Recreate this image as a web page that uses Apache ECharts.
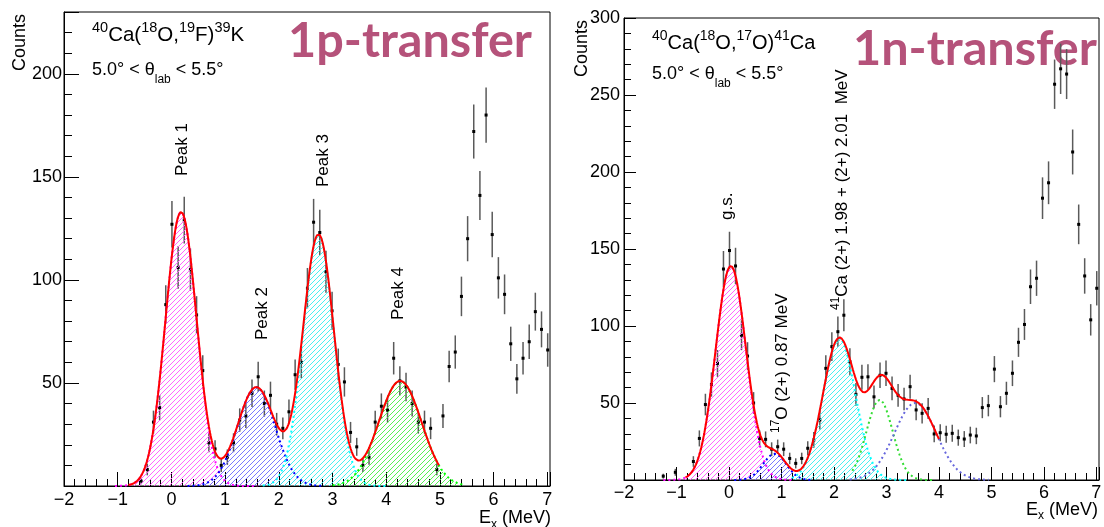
<!DOCTYPE html>
<html>
<head>
<meta charset="utf-8">
<script src="https://cdn.jsdelivr.net/npm/echarts@6.0.0/dist/echarts.min.js"></script>
<style>
html,body{margin:0;padding:0;background:#fff;}
#c{width:1104px;height:527px;}
</style>
</head>
<body>
<div id="c"></div>
<script>
// ------------------ DATA ------------------
// 40Ca(18O,19F)39K  (1p-transfer)
const leftE = [-0.564,-0.449,-0.334,-0.219,-0.105,0.010,0.125,0.239,0.354,0.469,0.584,0.698,0.813,0.928,1.042,1.157,1.272,1.386,1.501,1.616,1.731,1.845,1.960,2.075,2.189,2.304,2.419,2.533,2.648,2.763,2.878,2.992,3.107,3.222,3.336,3.451,3.566,3.680,3.795,3.910,4.025,4.139,4.254,4.369,4.483,4.598,4.713,4.827,4.942,5.057,5.172,5.286,5.401,5.516,5.630,5.745,5.860,5.974,6.089,6.204,6.319,6.433,6.548,6.663,6.777,6.892,7.007];
const leftCounts = [2.4,8,31,38,88,127,106,129,105,83,56,21,18,10,14,21,32,34,45,53,40,44,30,28,36,54,60,96,128,123,104,85,59,50.5,26,19,10,14,31,38.7,36.8,62,51,48,40,31,31,28,8,34,58,65,92,120,172,141,180,122,101,93,69,52,62,70,84.6,76,66];

// 40Ca(18O,17O)41Ca  (1n-transfer)
const rightE = [-1.252,-1.022,-0.678,-0.564,-0.449,-0.334,-0.219,-0.105,0.010,0.125,0.239,0.354,0.469,0.584,0.698,0.813,0.928,1.042,1.157,1.272,1.386,1.501,1.616,1.731,1.845,1.960,2.075,2.189,2.304,2.419,2.533,2.648,2.763,2.878,2.992,3.107,3.222,3.336,3.451,3.566,3.680,3.795,3.910,4.025,4.139,4.254,4.369,4.483,4.598,4.713,4.827,4.942,5.057,5.172,5.286,5.401,5.516,5.630,5.745,5.860,5.974,6.089,6.204,6.319,6.433,6.548,6.663,6.777,6.892,7.007];
const rightCounts = [2.5,5,12,27,49,62,75.7,137,149,139,94,80.5,50,27,26.4,20,21.6,20,14,10.8,14,20.6,26,39,72.5,86.6,96.3,107,76.8,55.6,66.7,67,54,68,69.3,59.5,55,52.6,60.6,45.5,43.3,46.5,29.9,30.7,29.7,30.3,27.5,26.6,29.2,28.6,47,48.3,72,47.6,56.3,69.3,89.4,101,125.5,131,183,193,257,267,263.6,213,166,132.5,104,124.5];

// Gaussian fit components (amplitude, mean, sigma, drawn range)
const leftAmp   = [133, 48, 122, 51];
const leftMean  = [0.18, 1.58, 2.74, 4.26];
const leftSigma = [0.29, 0.35, 0.29, 0.40];
const leftLo    = [-1.05, 0.30, 1.70, 3.00];
const leftHi    = [1.60, 2.80, 4.05, 5.45];
const leftFitRange = [-0.80, 4.98];

const rightAmp   = [139, 17, 92, 52, 50];
const rightMean  = [0.035, 0.87, 2.10, 2.87, 3.55];
const rightSigma = [0.29, 0.22, 0.31, 0.25, 0.40];
const rightLo    = [-1.25, 0.10, 1.20, 2.35, 2.30];
const rightHi    = [1.20, 1.60, 3.40, 3.90, 4.95];
const rightFitRange = [-0.83, 4.00];

// axis ticks
const xTickValues = [-2,-1,0,1,2,3,4,5,6,7];
const leftYTicks  = [50,100,150,200];
const rightYTicks = [50,100,150,200,250,300];

// ------------------ STYLE ------------------
const FONT = '"Liberation Sans", Arial, Helvetica, sans-serif';
const leftColors  = ['#ff00ff', '#0000ff', '#00ffff', '#00ff00'];
const leftHatch   = ['#ff55ff', '#6a6aff', '#33eeee', '#44ee44'];
const leftFilled  = [true, true, true, true];
const rightColors = ['#ff00ff', '#0000ff', '#00ffff', '#33dd33', '#6666dd'];
const rightHatch  = ['#ff55ff', '#6a6aff', '#33eeee', '#44ee44', '#6666dd'];
const rightFilled = [true, true, true, false, false];
const TITLE_COLOR = '#b5527a';

const chart = echarts.init(document.getElementById('c'), null, {renderer: 'canvas'});

function hatch(color) {
  const s = 5;
  const c = document.createElement('canvas');
  c.width = s; c.height = s;
  const g = c.getContext('2d');
  g.strokeStyle = color; g.lineWidth = 0.9;
  g.beginPath();
  g.moveTo(-1, s + 1); g.lineTo(s + 1, -1);
  g.moveTo(-1, 1); g.lineTo(1, -1);
  g.moveTo(s - 1, s + 1); g.lineTo(s + 1, s - 1);
  g.stroke();
  return {image: c, repeat: 'repeat'};
}

function gauss(a, m, s, x) { return a * Math.exp(-0.5 * ((x - m) / s) * ((x - m) / s)); }
function sample(lo, hi, f) {
  const n = Math.ceil((hi - lo) / 0.01), pts = [];
  for (let i = 0; i <= n; i++) { const x = lo + (hi - lo) * i / n; pts.push([x, f(x)]); }
  return pts;
}

const grids = [
  {left: 64, top: 12, width: 486, height: 474},
  {left: 624, top: 18, width: 475, height: 462}
];

function xMain(g, len) {
  return {gridIndex: g, type: 'value', min: -2, max: 7.05, interval: 1, position: 'bottom',
    axisLine: {show: true, onZero: false, lineStyle: {color: '#000', width: 1}},
    axisTick: {show: true, inside: true, length: len, lineStyle: {color: '#000', width: 1}},
    axisLabel: {show: true, margin: g === 0 ? 5 : 4, fontSize: 18, fontFamily: FONT, color: '#000',
      formatter: v => xTickValues.indexOf(Math.round(v * 1000) / 1000) < 0 ? '' : (v < 0 ? '\u2212' + (-v) : String(v))},
    splitLine: {show: false}};
}
function xMinor(g, len) {
  return {gridIndex: g, type: 'value', min: -2, max: 7.05, interval: 0.2, position: 'bottom',
    axisLine: {show: false, onZero: false},
    axisTick: {show: true, inside: true, length: len, lineStyle: {color: '#000', width: 1}},
    axisLabel: {show: false}, splitLine: {show: false}};
}
function yMain(g, max, len, ticks, margin) {
  return {gridIndex: g, type: 'value', min: 0, max: max, interval: 50, position: 'left',
    axisLine: {show: true, onZero: false, lineStyle: {color: '#000', width: 1}},
    axisTick: {show: true, inside: true, length: len, lineStyle: {color: '#000', width: 1}},
    axisLabel: {show: true, margin: margin, fontSize: 18, fontFamily: FONT, color: '#000',
      formatter: v => ticks.indexOf(v) < 0 ? '' : String(v)},
    splitLine: {show: false}};
}
function yMinor(g, max, len) {
  return {gridIndex: g, type: 'value', min: 0, max: max, interval: 10, position: 'left',
    axisLine: {show: false, onZero: false},
    axisTick: {show: true, inside: true, length: len, lineStyle: {color: '#000', width: 1}},
    axisLabel: {show: false}, splitLine: {show: false}};
}

function errSeries(E, C, xi, yi) {
  return {
    type: 'custom', xAxisIndex: xi, yAxisIndex: yi, z: 2, clip: true, silent: true,
    data: E.map((e, i) => [e, C[i], Math.sqrt(C[i])]),
    renderItem: function (params, api) {
      const x = api.value(0), y = api.value(1), er = api.value(2);
      const p = api.coord([x, y]);
      const t = api.coord([x, y + er]);
      const b = api.coord([x, Math.max(0, y - er)]);
      return {type: 'group', children: [
        {type: 'line', shape: {x1: p[0], y1: t[1], x2: p[0], y2: b[1]}, style: {stroke: '#5a5a5a', lineWidth: 1.5}},
        {type: 'rect', shape: {x: p[0] - 1.5, y: p[1] - 1.5, width: 3, height: 3}, style: {fill: '#000'}}
      ]};
    }
  };
}

function fitSeries(amp, mean, sig, lo, hi, colors, hatchColors, filled, range, xi, yi) {
  const out = [];
  amp.forEach((a, i) => {
    const s = {type: 'line', xAxisIndex: xi, yAxisIndex: yi, z: 3, silent: true, showSymbol: false, symbol: 'none',
      smooth: false, animation: false,
      lineStyle: {color: colors[i], width: 2, type: [2, 3]},
      data: sample(lo[i], hi[i], x => gauss(a, mean[i], sig[i], x))};
    if (filled[i]) s.areaStyle = {color: hatch(hatchColors[i]), opacity: 1, origin: 'start'};
    out.push(s);
  });
  out.push({type: 'line', xAxisIndex: xi, yAxisIndex: yi, z: 4, silent: true, showSymbol: false, symbol: 'none',
    animation: false, lineStyle: {color: '#ff0000', width: 2},
    data: sample(range[0], range[1], x => amp.reduce((acc, a, i) => acc + gauss(a, mean[i], sig[i], x), 0))});
  return out;
}

// --------- mixed-size text helper (superscripts/subscripts) ---------
const mctx = document.createElement('canvas').getContext('2d');
function tw(t, size, weight) { mctx.font = (weight || 'normal') + ' ' + size + 'px ' + FONT; return mctx.measureText(t).width; }
function mixedText(segs, x, y, opt) {
  opt = opt || {};
  let cx = 0; const kids = [];
  segs.forEach(sg => {
    kids.push({type: 'text', x: cx, y: sg[2], silent: true,
      style: {text: sg[0], fontSize: sg[1], fontFamily: FONT, fill: '#000',
        textAlign: 'left', textVerticalAlign: 'middle', verticalAlign: 'middle'}});
    cx += tw(sg[0], sg[1]);
  });
  const shift = opt.align === 'right' ? -cx : (opt.align === 'center' ? -cx / 2 : 0);
  kids.forEach(k => { k.x += shift; });
  return {type: 'group', x: x, y: y, rotation: opt.rotation || 0, silent: true, children: kids};
}
function bigTitle(text, x, y, width) {
  mctx.font = 'bold 100px Lato';
  const size = 100 * width / mctx.measureText(text).width;
  return {type: 'text', x: x, y: y, silent: true,
    style: {text: text, fontSize: size, fontWeight: 'bold', fontFamily: 'Lato', fill: TITLE_COLOR,
      textAlign: 'left', textVerticalAlign: 'middle', verticalAlign: 'middle'}};
}

const R = Math.PI / 2;
const graphics = [
  // left panel
  mixedText([['Counts', 18, 0]], 20.5, 14, {align: 'right', rotation: R}),
  mixedText([['E', 18, 0], ['x', 12, 6], [' (MeV)', 18, 0]], 551, 518.5, {align: 'right'}),
  mixedText([['40', 14.5, -7], ['Ca(', 20.5, 0], ['18', 14.5, -7], ['O,', 20.5, 0], ['19', 14.5, -7], ['F)', 20.5, 0], ['39', 14.5, -7], ['K', 20.5, 0]], 92, 35.3),
  mixedText([['5.0\u00b0 < \u03b8', 18, 0], ['lab', 12, 10], [' < 5.5\u00b0', 18, 0]], 92, 70),
  mixedText([['Peak 1', 17, 0]], 182, 176, {rotation: R}),
  mixedText([['Peak 2', 17, 0]], 262, 340, {rotation: R}),
  mixedText([['Peak 3', 17, 0]], 323, 187, {rotation: R}),
  mixedText([['Peak 4', 17, 0]], 398, 320, {rotation: R}),
  bigTitle('1p-transfer', 288, 41, 244),
  // right panel
  mixedText([['Counts', 18, 0]], 581.8, 20, {align: 'right', rotation: R}),
  mixedText([['E', 18, 0], ['x', 12, 6], [' (MeV)', 18, 0]], 1098, 510, {align: 'right'}),
  mixedText([['40', 14, -7], ['Ca(', 20, 0], ['18', 14, -7], ['O,', 20, 0], ['17', 14, -7], ['O)', 20, 0], ['41', 14, -7], ['Ca', 20, 0]], 652, 43.5),
  mixedText([['5.0\u00b0 < \u03b8', 18, 0], ['lab', 12, 10], [' < 5.5\u00b0', 18, 0]], 652, 74),
  mixedText([['g.s.', 17, 0]], 727, 220, {rotation: R}),
  mixedText([['17', 12, -6], ['O (2+) 0.87 MeV', 17, 0]], 782, 433, {rotation: R}),
  mixedText([['41', 12, -6], ['Ca (2+) 1.98 + (2+) 2.01  MeV', 17, 0]], 842, 310, {rotation: R}),
  bigTitle('1n-transfer', 853, 49, 244)
];

const option = {
  animation: false,
  backgroundColor: '#fff',
  grid: grids.map(g => Object.assign({show: true, borderColor: '#000', borderWidth: 1, backgroundColor: 'transparent',
    containLabel: false, outerBoundsMode: 'none'}, g)),
  xAxis: [xMain(0, 14), xMinor(0, 7), xMain(1, 13), xMinor(1, 7)],
  yAxis: [yMain(0, 230, 15, leftYTicks, 2), yMinor(0, 230, 8), yMain(1, 300, 12, rightYTicks, 4), yMinor(1, 300, 7)],
  series: [
    errSeries(leftE, leftCounts, 0, 0),
    ...fitSeries(leftAmp, leftMean, leftSigma, leftLo, leftHi, leftColors, leftHatch, leftFilled, leftFitRange, 0, 0),
    errSeries(rightE, rightCounts, 2, 2),
    ...fitSeries(rightAmp, rightMean, rightSigma, rightLo, rightHi, rightColors, rightHatch, rightFilled, rightFitRange, 2, 2)
  ],
  graphic: graphics
};
chart.setOption(option);
</script>
</body>
</html>
